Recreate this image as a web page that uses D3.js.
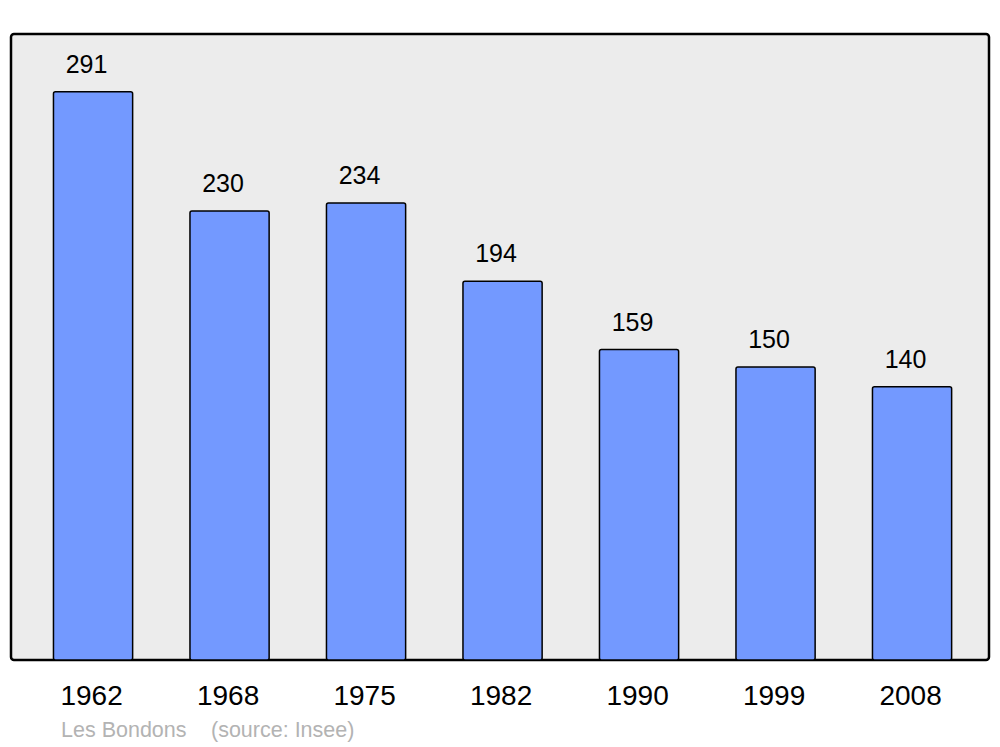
<!DOCTYPE html>
<html>
<head>
<meta charset="utf-8">
<script src="https://cdn.jsdelivr.net/npm/d3@7"></script>
<style>
  body { margin: 0; background: #fff; }
  text { font-family: "Liberation Sans", Arial, sans-serif; }
</style>
</head>
<body>
<div id="chart"></div>
<script>
// DATOS
const years = ["1962", "1968", "1975", "1982", "1990", "1999", "2008"]
const population = [291, 230, 234, 194, 159, 150, 140]
const commune = "Les Bondons"
const source = "(source: Insee)"

const width = 1000
const height = 747

// panel area
const panel = { left: 11, top: 34, right: 989, bottom: 660 }

const svg = d3.select("#chart").append("svg")
    .attr("width", width).attr("height", height)

svg.append("rect")
    .attr("x", panel.left).attr("y", panel.top)
    .attr("width", panel.right - panel.left)
    .attr("height", panel.bottom - panel.top)
    .attr("rx", 3).attr("ry", 3)
    .attr("fill", "#ececec")
    .attr("stroke", "#000").attr("stroke-width", 2.5)

// ESCALAS
const x = d3.scaleBand()
    .domain(years)
    .range([24.8, 980.3])
    .paddingInner(0.42)
    .paddingOuter(0.21)

const y = d3.scaleLinear()
    .domain([0, 291 * 1.1])
    .range([panel.bottom, panel.top + 1])

const data = years.map((yr, i) => ({ year: yr, value: population[i] }))

const g = svg.append("g")

g.selectAll("rect.bar").data(data).enter().append("rect")
    .attr("class", "bar")
    .attr("x", d => x(d.year))
    .attr("y", d => y(d.value))
    .attr("width", x.bandwidth())
    .attr("height", d => panel.bottom - y(d.value))
    .attr("rx", 2).attr("ry", 2)
    .attr("fill", "#7399ff")
    .attr("stroke", "#000").attr("stroke-width", 1.5)

// etiquetas de valor, un poco a la izquierda del centro como en el original
g.selectAll("text.val").data(data).enter().append("text")
    .attr("class", "val")
    .attr("x", d => x(d.year) + x.bandwidth() / 2 - 6.5)
    .attr("y", d => y(d.value) - 19)
    .attr("text-anchor", "middle")
    .attr("font-size", 25)
    .attr("fill", "#000")
    .text(d => d.value)

// EJE X (solo etiquetas)
const xAxis = d3.axisBottom(x).tickSize(0).tickPadding(0)
const xAxisGroup = svg.append("g")
    .attr("transform", `translate(-1.5, ${panel.bottom})`)
    .call(xAxis)
xAxisGroup.select(".domain").remove()
xAxisGroup.selectAll("text")
    .attr("dy", null)
    .attr("y", 45)
    .attr("font-size", 28)
    .attr("font-family", '"Liberation Sans", Arial, sans-serif')
    .attr("fill", "#000")

// PIE
svg.append("text")
    .attr("x", 61).attr("y", 737)
    .attr("font-size", 21.5)
    .attr("fill", "#b3b3b3")
    .text(commune)
svg.append("text")
    .attr("x", 211).attr("y", 737)
    .attr("font-size", 21.5)
    .attr("fill", "#b3b3b3")
    .text(source)
</script>
</body>
</html>
